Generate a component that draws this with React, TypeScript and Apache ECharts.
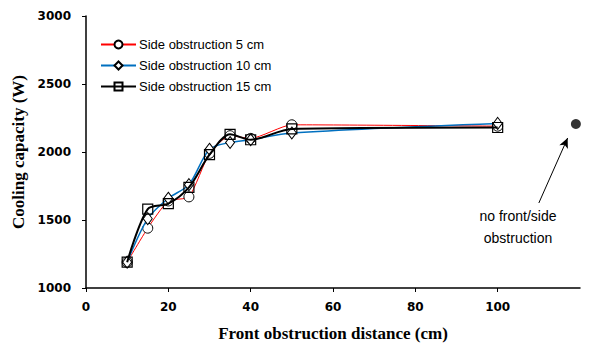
import React, { useEffect, useRef } from "react";
import * as echarts from "echarts";

const xCats = [10, 15, 20, 25, 30, 35, 40, 50, 100];
const side5 = [1190, 1440, 1640, 1670, 1990, 2120, 2100, 2200, 2190];
const side10 = [1190, 1510, 1660, 1760, 2020, 2070, 2090, 2140, 2210];
const side15 = [1190, 1580, 1620, 1740, 1980, 2130, 2090, 2170, 2180];
const noObstruction = [[119, 2206]];
const arrowFrom = [110, 1625];
const arrowTo = [117, 2103];
const xTicks = [0, 20, 40, 60, 80, 100];

const toPairs = (vals: number[]) => xCats.map((x, i) => [x, vals[i]]);

export default function App() {
  const ref = useRef<HTMLDivElement>(null);
  useEffect(() => {
    document.body.style.margin = "0";
    const chart = echarts.init(ref.current!, undefined, { renderer: "svg" });
    const sym = { color: "#fff", borderColor: "#000", borderWidth: 1 };
    chart.setOption({
      animation: false,
      grid: { left: 86, top: 16, width: 494, height: 272 },
      legend: {
        data: ["Side obstruction 5 cm", "Side obstruction 10 cm", "Side obstruction 15 cm"],
        orient: "vertical",
        left: 95,
        top: 33,
        itemWidth: 35,
        itemHeight: 10,
        itemGap: 8,
        textStyle: { fontFamily: "Liberation Sans", fontSize: 13, color: "#000", padding: [0, 0, 0, -2] },
      },
      xAxis: {
        type: "value",
        min: 0,
        max: 120,
        interval: 20,
        name: "Front obstruction distance (cm)",
        nameLocation: "middle",
        nameGap: 37,
        nameTextStyle: { fontFamily: "Liberation Serif", fontWeight: "bold", fontSize: 17, color: "#000" },
        axisLine: { lineStyle: { color: "#000", width: 1.5 } },
        axisTick: { customValues: xTicks, length: 4, lineStyle: { color: "#000" } },
        axisLabel: {
          customValues: xTicks,
          margin: 13,
          fontFamily: "DejaVu Sans",
          fontWeight: "bold",
          fontSize: 12,
          color: "#000",
          formatter: (v: number) => String(v),
        },
        splitLine: { show: false },
      },
      yAxis: {
        type: "value",
        min: 1000,
        max: 3000,
        interval: 500,
        name: "Cooling capacity (W)",
        nameLocation: "middle",
        nameRotate: 90,
        nameGap: 48,
        nameTextStyle: { fontFamily: "Liberation Serif", fontWeight: "bold", fontSize: 17, color: "#000" },
        axisLine: { show: true, lineStyle: { color: "#000", width: 1.5 } },
        axisTick: { show: true, length: 4, lineStyle: { color: "#000" } },
        axisLabel: {
          margin: 15,
          fontFamily: "DejaVu Sans",
          fontWeight: "bold",
          fontSize: 12,
          color: "#000",
          formatter: (v: number) => String(v),
        },
        splitLine: { show: false },
      },
      series: [
        {
          name: "Side obstruction 5 cm",
          type: "line",
          data: toPairs(side5),
          smooth: 0.2,
          symbol: "circle",
          symbolSize: 10,
          lineStyle: { color: "#ff0000", width: 1 },
          itemStyle: sym,
          z: 3,
        },
        {
          name: "Side obstruction 10 cm",
          type: "line",
          data: toPairs(side10),
          smooth: 0.3,
          symbol: "diamond",
          symbolSize: [9, 12],
          lineStyle: { color: "#0070c0", width: 1.5 },
          itemStyle: sym,
          z: 4,
        },
        {
          name: "Side obstruction 15 cm",
          type: "line",
          data: toPairs(side15),
          smooth: 0.3,
          symbol: "rect",
          symbolSize: 10,
          lineStyle: { color: "#000", width: 2 },
          itemStyle: { color: "none", borderColor: "#000", borderWidth: 1.2 },
          z: 5,
        },
        {
          name: "No obstruction",
          type: "scatter",
          data: noObstruction,
          symbol: "circle",
          symbolSize: 10,
          itemStyle: { color: "#000" },
          markLine: {
            silent: true,
            symbol: ["none", "arrow"],
            symbolSize: [7, 10],
            label: { show: false },
            lineStyle: { color: "#000", width: 1, type: "solid" },
            data: [[{ coord: arrowFrom }, { coord: arrowTo }]],
          },
        },
      ],
      graphic: [
        {
          type: "text",
          x: 518,
          y: 205,
          style: {
            text: "no front/side\nobstruction",
            fontFamily: "Liberation Sans",
            fontSize: 14,
            lineHeight: 22,
            fill: "#000",
            align: "center",
          },
        },
      ],
    });
    return () => chart.dispose();
  }, []);
  return <div ref={ref} style={{ width: 611, height: 349 }} />;
}
